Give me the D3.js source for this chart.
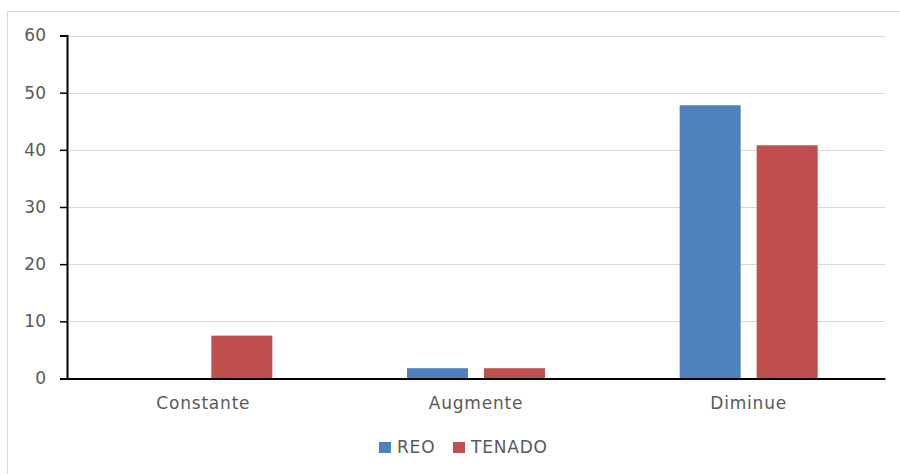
<!DOCTYPE html>
<html>
<head>
<meta charset="utf-8">
<script src="https://cdn.jsdelivr.net/npm/d3@7"></script>
<style>
  html, body { margin: 0; padding: 0; background: #fff; }
  svg { display: block; }
  text { font-family: "DejaVu Sans", sans-serif; fill: #595959; }
</style>
</head>
<body>
<svg id="chart" width="900" height="474"></svg>
<script>
const categories = ["Constante", "Augmente", "Diminue"];
const seriesNames = ["REO", "TENADO"];
const reoValues = [0, 1.8, 47.8];
const tenadoValues = [7.5, 1.8, 40.8];
const yTicks = [0, 10, 20, 30, 40, 50, 60];
const colors = ["#4f81bd", "#c0504d"];

const svg = d3.select("#chart");
const plot = { left: 67, right: 885, top: 35.5, bottom: 378.5 };
const fontPx = "17px";

// outer frame of the chart area
svg.append("rect")
  .attr("x", 7.5).attr("y", 11.5)
  .attr("width", 900).attr("height", 480)
  .attr("fill", "none").attr("stroke", "#d9d9d9").attr("stroke-width", 1);

const y = d3.scaleLinear().domain([0, 60]).range([plot.bottom, plot.top]);
const x0 = d3.scaleBand().domain(categories).range([plot.left, plot.right]).padding(0);

// two bars of equal width with a small gap, centred in each category
const groupW = 138;
const x1 = d3.scaleBand().domain(seriesNames)
  .range([(x0.bandwidth() - groupW) / 2, (x0.bandwidth() + groupW) / 2])
  .paddingInner(2 - groupW / 77).paddingOuter(0);

// horizontal gridlines
svg.append("g").selectAll("line")
  .data(yTicks.filter(d => d > 0))
  .join("line")
  .attr("x1", plot.left).attr("x2", plot.right)
  .attr("y1", d => Math.round(y(d)) + 0.5).attr("y2", d => Math.round(y(d)) + 0.5)
  .attr("stroke", "#d9d9d9").attr("stroke-width", 1);

// bars
const rows = categories.map((c, i) => ({ cat: c, values: [reoValues[i], tenadoValues[i]] }));
svg.append("g").selectAll("g")
  .data(rows)
  .join("g")
  .attr("transform", d => `translate(${x0(d.cat)},0)`)
  .selectAll("rect")
  .data(d => d.values.map((v, k) => ({ key: seriesNames[k], v, k })))
  .join("rect")
  .attr("x", d => x1(d.key))
  .attr("width", x1.bandwidth())
  .attr("y", d => y(d.v))
  .attr("height", d => y(0) - y(d.v))
  .attr("fill", d => colors[d.k]);

// y axis
const yAxis = d3.axisLeft(y).tickValues(yTicks).tickSize(7).tickPadding(14).tickFormat(d3.format("d"));
const gy = svg.append("g").attr("transform", `translate(${plot.left},0)`).call(yAxis);
gy.select(".domain").attr("stroke", "#000").attr("stroke-width", 2);
gy.selectAll(".tick line").attr("stroke", "#000").attr("stroke-width", 1.5);
gy.selectAll(".tick text").style("font-size", fontPx).attr("fill", "#595959");

// x axis baseline and category labels
const xAxis = d3.axisBottom(x0).tickSize(0).tickPadding(18);
const gx = svg.append("g").attr("transform", `translate(0,${y(0)})`).call(xAxis);
gx.select(".domain").attr("stroke", "#000").attr("stroke-width", 2);
gx.selectAll(".tick text").style("font-size", fontPx).style("letter-spacing", "0.8px").attr("fill", "#595959");

// legend
const legendX = [379, 453];
const lg = svg.append("g").selectAll("g")
  .data(seriesNames)
  .join("g")
  .attr("transform", (d, i) => `translate(${legendX[i]},442)`);
lg.append("rect").attr("width", 12).attr("height", 11).attr("fill", (d, i) => colors[i]);
lg.append("text").attr("x", 18).attr("y", 11).style("font-size", fontPx).style("letter-spacing", "0.8px").text(d => d);
</script>
</body>
</html>
